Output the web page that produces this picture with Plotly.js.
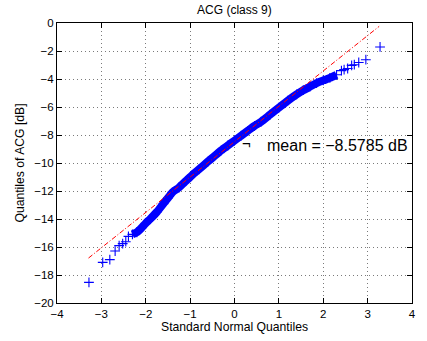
<!DOCTYPE html>
<html>
<head>
<meta charset="utf-8">
<script src="https://cdn.plot.ly/plotly-3.0.1.min.js"></script>
<style>html,body{margin:0;padding:0;background:#fff;}#chart{width:427px;height:341px;}</style>
</head>
<body>
<div id="chart"></div>
<script>
// Dense central band of the QQ plot (standard normal quantile, sample quantile in dB)
const bandX = [-2.30, -2.20, -2.10, -2.00, -1.90, -1.75, -1.60, -1.50, -1.40, -1.25, -1.10, -0.95, -0.80, -0.60, -0.45, -0.30, -0.15, 0.00, 0.15, 0.30, 0.45, 0.60, 0.80, 1.00, 1.20, 1.40, 1.55, 1.70, 1.85, 2.00, 2.15, 2.30];
const bandY = [-15.10, -14.95, -14.65, -14.30, -14.00, -13.50, -12.90, -12.50, -12.10, -11.75, -11.30, -10.85, -10.45, -9.90, -9.50, -9.10, -8.75, -8.40, -8.05, -7.70, -7.35, -7.05, -6.55, -6.05, -5.55, -5.10, -4.80, -4.55, -4.30, -4.10, -3.92, -3.70];
// Isolated tail points
const lowTailX = [-3.28, -2.97, -2.81, -2.69, -2.60, -2.52, -2.45, -2.39];
const lowTailY = [-18.53, -17.10, -16.90, -16.29, -15.90, -15.76, -15.62, -15.24];
const highTailX = [2.41, 2.47, 2.55, 2.64, 2.70, 2.80, 2.96, 3.28];
const highTailY = [-3.40, -3.33, -3.25, -3.03, -2.98, -2.82, -2.62, -1.71];
// Reference line (through quartiles)
const refX = [-3.29, 3.26];
const refY = [-16.79, -0.24];
const xTicks = [-4, -3, -2, -1, 0, 1, 2, 3, 4];
const yTicks = [-20, -18, -16, -14, -12, -10, -8, -6, -4, -2, 0];
const meanLabel = "mean = \u22128.5785 dB";

const blue = "#0000ff";
const font = "Liberation Sans, Arial, Helvetica, sans-serif";
const plusMarker = {symbol: "cross-thin-open", size: 7, color: blue, line: {color: blue, width: 1.1}};

const traces = [
  {x: bandX, y: bandY, mode: "lines", line: {color: blue, width: 8, shape: "spline", smoothing: 0.6}, hoverinfo: "skip", showlegend: false},
  {x: bandX, y: bandY, mode: "markers", marker: plusMarker, showlegend: false},
  {x: lowTailX.concat(highTailX), y: lowTailY.concat(highTailY), mode: "markers", marker: plusMarker, showlegend: false},
  {x: refX, y: refY, mode: "lines", line: {color: "#ff0000", width: 1, dash: "5px,2px,1px,2px"}, showlegend: false}
];

const axisCommon = {
  showline: true, linecolor: "#000", linewidth: 1, mirror: "ticks",
  ticks: "inside", ticklen: 5, tickcolor: "#000", tickwidth: 1,
  showgrid: true, gridcolor: "#7a7a7a", gridwidth: 1, griddash: "1px,3px",
  zeroline: false, tickfont: {family: font, size: 11.5, color: "#000"}
};

const layout = {
  width: 427, height: 341,
  margin: {l: 57, r: 15, t: 23, b: 38},
  paper_bgcolor: "#fff", plot_bgcolor: "#fff",
  title: {text: "ACG (class 9)", font: {family: font, size: 12, color: "#000"}, x: 0.549, xanchor: "center", y: 0.97, yanchor: "middle"},
  xaxis: Object.assign({}, axisCommon, {range: [-4, 4], tickvals: xTicks,
    title: {text: "Standard Normal Quantiles", font: {family: font, size: 12.2, color: "#000"}, standoff: 3}}),
  yaxis: Object.assign({}, axisCommon, {range: [-20, 0], tickvals: yTicks,
    title: {text: "Quantiles of ACG [dB]", font: {family: font, size: 12.2, color: "#000"}, standoff: 6}}),
  annotations: [
    {x: 0.685, y: -8.76, xref: "x", yref: "y", text: meanLabel, showarrow: false, xanchor: "left", yanchor: "middle",
     font: {family: font, size: 16, color: "#000"}},
    {x: 0.26, y: -8.62, xref: "x", yref: "y", text: "\u00ac", showarrow: false, xanchor: "center", yanchor: "middle",
     font: {family: font, size: 15, color: "#000"}}
  ]
};

Plotly.newPlot("chart", traces, layout, {staticPlot: true, displayModeBar: false});
</script>
</body>
</html>
